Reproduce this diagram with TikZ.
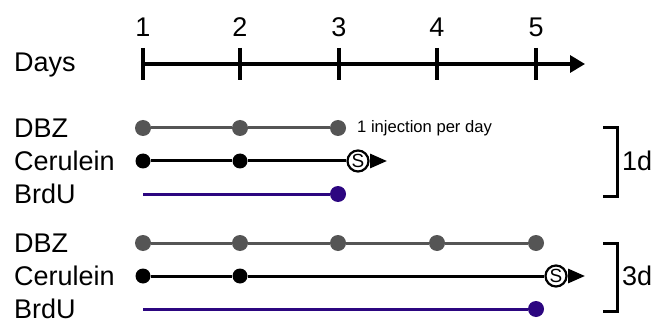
\documentclass[tikz,border=0pt]{standalone}
\usepackage{fontspec}
\setmainfont{Liberation Sans}
\usetikzlibrary{arrows.meta}
\definecolor{dbzgray}{RGB}{85,85,85}
\definecolor{brdupurple}{RGB}{44,6,128}
\tikzset{
  lbl/.style={anchor=west, inner sep=0pt, font=\fontsize{27}{30}\selectfont},
  num/.style={inner sep=0pt, font=\fontsize{27}{30}\selectfont},
  gdot/.style={circle, fill=dbzgray, inner sep=0pt, minimum size=16pt},
  bdot/.style={circle, fill=black, inner sep=0pt, minimum size=15pt},
  pdot/.style={circle, fill=brdupurple, inner sep=0pt, minimum size=16pt},
  sacr/.style={circle, draw=black, line width=2.2pt, fill=white, inner sep=0pt, minimum size=21pt, font=\fontsize{19}{20}\selectfont},
  gline/.style={draw=dbzgray, line width=3pt},
  bline/.style={draw=black, line width=3pt},
  pline/.style={draw=brdupurple, line width=3pt},
  axis/.style={draw=black, line width=3.3pt},
  brk/.style={draw=black, line width=3pt},
}
\begin{document}
\begin{tikzpicture}[x=1pt,y=-1pt]
\useasboundingbox (0,0) rectangle (655,323);
% axis
\node[lbl] (days) at (14,65) {Days};
\foreach \i/\x in {1/143,2/240,3/339,4/437,5/536}{
  \coordinate (tt\i) at (\x,48);
  \coordinate (tb\i) at (\x,80);
  \node[num] (n\i) at (\x,27) {\i};
  \draw[axis] (tt\i) -- (tb\i);
}
\coordinate (ax0) at (143,64);
\coordinate (ax1) at (585,64);
\draw[axis, -{Triangle[length=15pt,width=17pt]}] (ax0) -- (ax1);

% group 1
\node[lbl] (dbz1) at (14,128) {DBZ};
\node[lbl] (cer1) at (14,161) {Cerulein};
\node[lbl] (brd1) at (14,194) {BrdU};
\node[gdot] (g11) at (143,128) {};
\node[gdot] (g12) at (240,128) {};
\node[gdot] (g13) at (338,128) {};
\draw[gline] (g11) -- (g12) (g12) -- (g13);
\node[anchor=west, inner sep=0pt, font=\fontsize{16.6}{18}\selectfont] (inj) at (357,128) {1 injection per day};
\node[bdot] (c11) at (143,161) {};
\node[bdot] (c12) at (240,161) {};
\node[sacr] (s1) at (358,161) {S};
\coordinate (a1) at (387,161);
\draw[bline] (c11) -- (c12) (c12) -- (s1);
\draw[bline, -{Triangle[length=17pt,width=14pt]}] (s1.east) -- (a1);
\coordinate (p10) at (143,194);
\node[pdot] (p11) at (338,194) {};
\draw[pline] (p10) -- (p11);
\coordinate (b1a) at (603,128);
\coordinate (b1b) at (617,128);
\coordinate (b1c) at (617,196);
\coordinate (b1d) at (603,196);
\draw[brk] (b1a) -- (b1b) -- (b1c) -- (b1d);
\node[lbl] (d1) at (622,161) {1d};

% group 2
\node[lbl] (dbz2) at (14,243) {DBZ};
\node[lbl] (cer2) at (14,276) {Cerulein};
\node[lbl] (brd2) at (14,309) {BrdU};
\node[gdot] (g21) at (143,243) {};
\node[gdot] (g22) at (240,243) {};
\node[gdot] (g23) at (338,243) {};
\node[gdot] (g24) at (437,243) {};
\node[gdot] (g25) at (536,243) {};
\draw[gline] (g21) -- (g22) (g22) -- (g23) (g23) -- (g24) (g24) -- (g25);
\node[bdot] (c21) at (143,276) {};
\node[bdot] (c22) at (240,276) {};
\node[sacr] (s2) at (556,276) {S};
\coordinate (a2) at (585,276);
\draw[bline] (c21) -- (c22) (c22) -- (s2);
\draw[bline, -{Triangle[length=17pt,width=14pt]}] (s2.east) -- (a2);
\coordinate (p20) at (143,309);
\node[pdot] (p21) at (536,309) {};
\draw[pline] (p20) -- (p21);
\coordinate (b2a) at (603,243);
\coordinate (b2b) at (617,243);
\coordinate (b2c) at (617,311);
\coordinate (b2d) at (603,311);
\draw[brk] (b2a) -- (b2b) -- (b2c) -- (b2d);
\node[lbl] (d2) at (622,276) {3d};
\end{tikzpicture}
\end{document}
